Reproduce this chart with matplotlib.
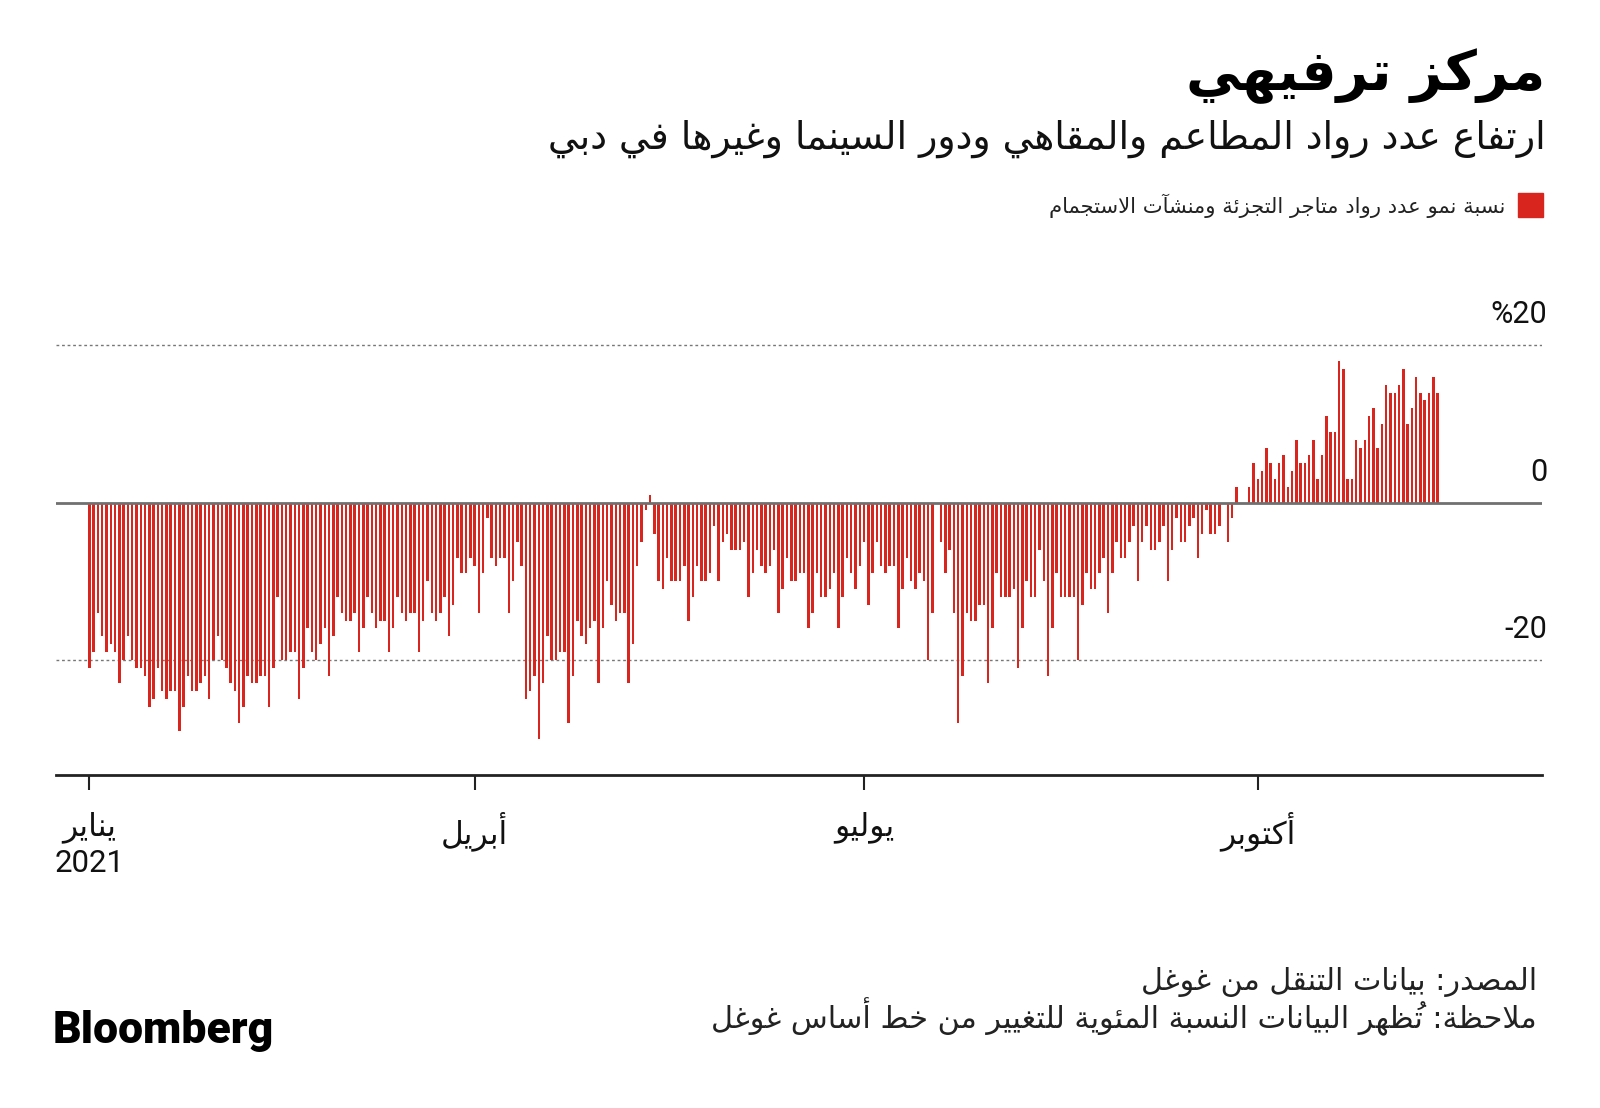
import numpy as np
import matplotlib.pyplot as plt
from matplotlib.patches import Rectangle

# daily % change vs Google baseline, retail & recreation, Dubai, 2021
jan = [-21, -19, -14, -17, -19, -18, -19, -23, -20, -17, -20, -21, -21, -22, -26, -25,
       -21, -24, -25, -24, -24, -29, -26, -22, -24, -24, -23, -22, -25, -20, -17]
feb = [-20, -21, -23, -24, -28, -26, -22, -23, -23, -22, -22, -26, -21, -12, -20, -20,
       -19, -19, -25, -21, -16, -19, -20, -18, -16, -22, -17, -12]
mar = [-14, -15, -15, -14, -19, -16, -12, -14, -16, -15, -15, -19, -16, -12, -14, -15,
       -14, -14, -19, -15, -10, -14, -15, -14, -12, -17, -13, -7, -9, -9, -7]
apr = [-8, -14, -9, -2, -7, -8, -7, -7, -14, -10, -5, -8, -25, -24, -22, -30,
       -23, -17, -20, -20, -19, -19, -28, -22, -15, -17, -18, -16, -15, -23]
may = [-16, -10, -13, -15, -14, -14, -23, -18, -8, -5, -1, 1, -4, -10, -11, -7,
       -10, -10, -10, -8, -15, -12, -8, -10, -10, -9, -3, -10, -5, -4, -6]
jun = [-6, -6, -5, -12, -9, -6, -8, -9, -8, -6, -14, -11, -7, -10, -10, -9,
       -9, -16, -14, -9, -12, -12, -11, -9, -16, -12, -7, -9, -11, -8]
jul = [-5, -13, -9, -5, -8, -9, -8, -8, -16, -11, -7, -10, -11, -9, -10, -20,
       -14, 0, -5, -9, -6, -14, -28, -22, -14, -15, -15, -13, -13, -23, -16]
aug = [-9, -12, -12, -12, -11, -21, -16, -10, -12, -12, -6, -10, -22, -16, -9, -12,
       -12, -12, -12, -20, -13, -9, -11, -11, -9, -7, -14, -9, -5, -7, -7]
sep = [-5, -3, -10, -5, -3, -6, -6, -5, -3, -10, -6, -2, -5, -5, -3, -2,
       -7, -4, -1, -4, -4, -3, 0, -5, -2, 2, 0, 0, 2, 5]
oct_ = [3, 4, 7, 5, 3, 5, 6, 2, 4, 8, 5, 5, 6, 8, 3, 6,
        11, 9, 9, 18, 17, 3, 3, 8, 7, 8, 11, 12, 7, 10, 15]
nov = [14, 14, 15, 17, 10, 12, 16, 14, 13, 14, 16, 14]

tick_days = [0, 90, 181, 273]
tick_labels = ['يناير\n2021', 'أبريل', 'يوليو', 'أكتوبر']
grid_levels = [20, -20]
grid_labels = ['%20', '0', '-20']
label_levels = [20, 0, -20]

title = 'مركز ترفيهي'
subtitle = 'ارتفاع عدد رواد المطاعم والمقاهي ودور السينما وغيرها في دبي'
legend_label = 'نسبة نمو عدد رواد متاجر التجزئة ومنشآت الاستجمام'
source = 'المصدر: بيانات التنقل من غوغل'
note = 'ملاحظة: تُظهر البيانات النسبة المئوية للتغيير من خط أساس غوغل'

RED = '#d8261f'

# matplotlib 3.10 has no arabic shaping, so do it by hand with presentation forms
FORMS = {
    'ء': (0xFE80, 1), 'آ': (0xFE81, 2), 'أ': (0xFE83, 2), 'ؤ': (0xFE85, 2),
    'إ': (0xFE87, 2), 'ئ': (0xFE89, 4), 'ا': (0xFE8D, 2), 'ب': (0xFE8F, 4),
    'ة': (0xFE93, 2), 'ت': (0xFE95, 4), 'ث': (0xFE99, 4), 'ج': (0xFE9D, 4),
    'ح': (0xFEA1, 4), 'خ': (0xFEA5, 4), 'د': (0xFEA9, 2), 'ذ': (0xFEAB, 2),
    'ر': (0xFEAD, 2), 'ز': (0xFEAF, 2), 'س': (0xFEB1, 4), 'ش': (0xFEB5, 4),
    'ص': (0xFEB9, 4), 'ض': (0xFEBD, 4), 'ط': (0xFEC1, 4), 'ظ': (0xFEC5, 4),
    'ع': (0xFEC9, 4), 'غ': (0xFECD, 4), 'ف': (0xFED1, 4), 'ق': (0xFED5, 4),
    'ك': (0xFED9, 4), 'ل': (0xFEDD, 4), 'م': (0xFEE1, 4), 'ن': (0xFEE5, 4),
    'ه': (0xFEE9, 4), 'و': (0xFEED, 2), 'ى': (0xFEEF, 2), 'ي': (0xFEF1, 4),
}
LAM_ALEF = {'آ': 0xFEF5, 'أ': 0xFEF7, 'إ': 0xFEF9, 'ا': 0xFEFB}
MARKS = set(chr(c) for c in range(0x064B, 0x0653)) | {'\u0670'}


def shape_line(s):
    units = []  # [base code or None, n forms, text, marks]
    i = 0
    while i < len(s):
        c = s[i]
        if c in MARKS and units:
            units[-1][3] += c
            i += 1
            continue
        if c.isdigit():
            # keep number runs left-to-right
            j = i
            while j < len(s) and s[j].isdigit():
                j += 1
            units.append([None, 0, s[i:j], ''])
            i = j
            continue
        if c == 'ل':
            j = i + 1
            marks = ''
            while j < len(s) and s[j] in MARKS:
                marks += s[j]
                j += 1
            if j < len(s) and s[j] in LAM_ALEF:
                units.append([LAM_ALEF[s[j]], 2, c, marks])
                i = j + 1
                continue
        if c in FORMS:
            base, n = FORMS[c]
            units.append([base, n, c, ''])
        else:
            units.append([None, 0, c, ''])
        i += 1

    out = []
    for k, (base, n, c, marks) in enumerate(units):
        if base is None:
            out.append(c)
            continue
        prev = k > 0 and units[k - 1][1] == 4 and n >= 2
        nxt = k < len(units) - 1 and units[k + 1][1] >= 2 and n == 4
        if n == 1:
            idx = 0
        elif prev and nxt:
            idx = 3
        elif prev:
            idx = 1
        elif nxt:
            idx = 2
        else:
            idx = 0
        # mark goes before its base so it lands over the glyph
        out.append(marks + chr(base + idx))
    return ''.join(reversed(out))


def ar(s):
    return '\n'.join(shape_line(line) for line in s.split('\n'))


plt.rcParams['font.family'] = ['DejaVu Sans']

values = np.array(jan + feb + mar + apr + may + jun + jul + aug + sep + oct_ + nov)
days = np.arange(len(values))

fig = plt.figure(figsize=(16, 11.08), dpi=100)
ax = fig.add_axes([0.035, 0.3001, 0.929, 0.4024])

ax.bar(days, values, width=0.58, color=RED, zorder=2)
ax.axhline(0, color='#707070', lw=2, zorder=3)
for y in grid_levels:
    ax.axhline(y, color='#777777', lw=1, ls=(0, (2, 2)), zorder=1)

ax.set_xlim(-7.8, 339.5)
ax.set_ylim(-34.7, 22)
for side in ['top', 'right', 'left']:
    ax.spines[side].set_visible(False)
ax.spines['bottom'].set_color('#222222')
ax.spines['bottom'].set_linewidth(2)
ax.set_yticks([])
ax.set_xticks(tick_days)
ax.set_xticklabels([ar(t) for t in tick_labels], fontsize=22.5, linespacing=1.25,
                   family=['Roboto', 'DejaVu Sans'], color='#111111')
ax.tick_params(axis='x', length=11, width=1.5, color='#222222', pad=15)

for lab, y in zip(grid_labels, label_levels):
    ax.text(1.0034, y + 2.8, lab, transform=ax.get_yaxis_transform(),
            ha='right', va='baseline', fontsize=22, family=['Roboto', 'DejaVu Sans'],
            color='#111111', clip_on=False)

renderer = fig.canvas.get_renderer()


def fit(t, width):
    w = t.get_window_extent(renderer).width
    t.set_fontsize(t.get_fontsize() * width / w)


t = fig.text(0.966, 0.919, ar(title), ha='right', va='baseline',
             fontsize=40, weight='bold', color='#000000')
fit(t, 359)
t = fig.text(0.966, 0.8655, ar(subtitle), ha='right', va='baseline',
             fontsize=24, color='#111111')
fit(t, 1002)
t = fig.text(0.941, 0.8078, ar(legend_label), ha='right', va='baseline',
             fontsize=14, color='#222222')
fit(t, 463)
fig.patches.append(Rectangle((0.949, 0.8042), 0.0156, 0.0216, color=RED,
                             transform=fig.transFigure, figure=fig))

t = fig.text(0.9606, 0.1065, ar(source), ha='right', va='baseline',
             fontsize=20, color='#222222')
fit(t, 396)
t = fig.text(0.9606, 0.0715, ar(note), ha='right', va='baseline',
             fontsize=20, color='#222222')
fit(t, 826)

t = fig.text(0.033, 0.0587, 'Bloomberg', ha='left', va='baseline', fontsize=31,
             weight='black', family=['Roboto', 'DejaVu Sans'], color='#000000')
fit(t, 220)

fig.savefig('out.png', dpi=100)
